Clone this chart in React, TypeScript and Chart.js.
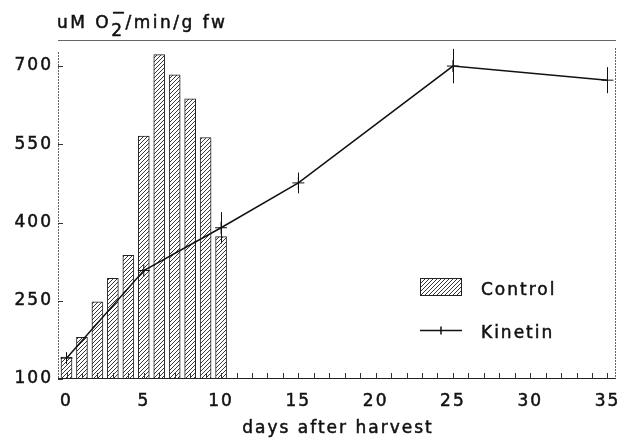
import React, { useEffect, useRef } from "react";
import { Chart, registerables } from "chart.js";
Chart.register(...registerables);

const controlDays = [0, 1, 2, 3, 4, 5, 6, 7, 8, 9, 10];
const controlValues = [142, 180, 248, 293, 337, 566, 722, 683, 637, 563, 373];
const kinetinDays = [0, 5, 10, 15, 25, 35];
const kinetinValues = [140, 308, 390, 476, 700, 673];
const kinetinErrors = [0, 0, 30, 20, 33, 25];
const xTicks = [0, 5, 10, 15, 20, 25, 30, 35];
const yTicks = [100, 250, 400, 550, 700];
const minorXTicks = Array.from({ length: 36 }, (_, i) => i);

const FONT = "'DejaVu Sans', sans-serif";
const SPACING = "2px";
const TEXT_STROKE = 0.5;

function makeHatch(): CanvasPattern | string {
  const c = document.createElement("canvas");
  c.width = 4;
  c.height = 4;
  const g = c.getContext("2d");
  if (!g) return "#fff";
  g.fillStyle = "#fff";
  g.fillRect(0, 0, 4, 4);
  g.strokeStyle = "#222";
  g.lineWidth = 0.9;
  g.beginPath();
  g.moveTo(0, 4);
  g.lineTo(4, 0);
  g.moveTo(-1, 1);
  g.lineTo(1, -1);
  g.moveTo(3, 5);
  g.lineTo(5, 3);
  g.stroke();
  const p = g.createPattern(c, "repeat");
  return p || "#fff";
}

function drawText(ctx: any, s: string, x: number, y: number) {
  ctx.fillText(s, x, y);
  ctx.lineWidth = TEXT_STROKE;
  ctx.strokeStyle = "#111";
  ctx.strokeText(s, x, y);
}

export default function App() {
  const ref = useRef<HTMLCanvasElement | null>(null);
  useEffect(() => {
    if (!ref.current) return;
    const hatch = makeHatch();

    const spacingPlugin = {
      id: "spacing",
      beforeLayout(chart: any) {
        try {
          chart.ctx.letterSpacing = SPACING;
        } catch (e) {}
      },
      beforeDraw(chart: any) {
        try {
          chart.ctx.letterSpacing = SPACING;
        } catch (e) {}
      },
    };

    const decorPlugin = {
      id: "decor",
      afterDatasetsDraw(chart: any) {
        const { ctx, chartArea, scales } = chart;
        const xs = scales.x;
        const ys = scales.y;
        ctx.save();
        // error bars
        ctx.strokeStyle = "#111";
        ctx.lineWidth = 1;
        kinetinDays.forEach((d, i) => {
          const e = kinetinErrors[i];
          if (!e) return;
          const px = Math.round(xs.getPixelForValue(d)) + 0.5;
          ctx.beginPath();
          ctx.moveTo(px, ys.getPixelForValue(kinetinValues[i] - e));
          ctx.lineTo(px, ys.getPixelForValue(kinetinValues[i] + e));
          ctx.stroke();
        });
        // borders
        ctx.strokeStyle = "#666";
        ctx.lineWidth = 1;
        ctx.beginPath();
        ctx.moveTo(chartArea.left, chartArea.top + 0.5);
        ctx.lineTo(chartArea.right, chartArea.top + 0.5);
        ctx.stroke();
        ctx.setLineDash([2, 1]);
        ctx.beginPath();
        ctx.moveTo(chartArea.right - 0.5, chartArea.top + 8);
        ctx.lineTo(chartArea.right - 0.5, chartArea.bottom);
        ctx.moveTo(chartArea.left + 0.5, chartArea.top + 12);
        ctx.lineTo(chartArea.left + 0.5, chartArea.bottom);
        ctx.stroke();
        ctx.setLineDash([]);
        ctx.strokeStyle = "#222";
        ctx.beginPath();
        ctx.moveTo(chartArea.left, chartArea.bottom - 0.5);
        ctx.lineTo(chartArea.right, chartArea.bottom - 0.5);
        ctx.stroke();
        // minor x ticks (inside)
        ctx.strokeStyle = "#333";
        ctx.beginPath();
        minorXTicks.forEach((d) => {
          const px = Math.round(xs.getPixelForValue(d)) + 0.5;
          ctx.moveTo(px, chartArea.bottom);
          ctx.lineTo(px, chartArea.bottom - 6);
        });
        // y ticks inside
        yTicks.forEach((v) => {
          const py = Math.round(ys.getPixelForValue(v)) + 0.5;
          ctx.moveTo(chartArea.left, py);
          ctx.lineTo(chartArea.left + 5, py);
        });
        ctx.stroke();

        // title
        ctx.fillStyle = "#111";
        ctx.textBaseline = "alphabetic";
        ctx.textAlign = "left";
        try {
          ctx.letterSpacing = "2.5px";
        } catch (e) {}
        ctx.font = `17px ${FONT}`;
        let tx = 57;
        const ty = 28;
        const t1 = "uM O";
        drawText(ctx, t1, tx, ty);
        tx += ctx.measureText(t1).width;
        drawText(ctx, "2", tx, ty + 8);
        drawText(ctx, "\u2212", tx, ty - 10);
        tx += ctx.measureText("2").width + 1;
        drawText(ctx, "/min/g fw", tx, ty);
        try {
          ctx.letterSpacing = SPACING;
        } catch (e) {}

        // x-axis title
        ctx.textAlign = "center";
        drawText(ctx, "days after harvest", (chartArea.left + chartArea.right) / 2 + 1, 433);
        ctx.textAlign = "left";

        // legend
        const lx = 420;
        const ly = 278;
        ctx.fillStyle = hatch as any;
        ctx.fillRect(lx, ly, 42, 18);
        ctx.strokeStyle = "#222";
        ctx.lineWidth = 1;
        ctx.strokeRect(lx + 0.5, ly + 0.5, 41, 17);
        ctx.fillStyle = "#111";
        ctx.font = `17px ${FONT}`;
        ctx.textBaseline = "middle";
        drawText(ctx, "Control", lx + 61, ly + 13);
        const ky = 330.5;
        ctx.lineWidth = 1.5;
        ctx.strokeStyle = "#111";
        ctx.beginPath();
        ctx.moveTo(lx, ky);
        ctx.lineTo(lx + 42, ky);
        ctx.moveTo(lx + 21, ky - 4);
        ctx.lineTo(lx + 21, ky + 4);
        ctx.stroke();
        drawText(ctx, "Kinetin", lx + 61, ky + 3);
        ctx.restore();
      },
    };

    const chart = new Chart(ref.current, {
      type: "bar",
      data: {
        datasets: [
          {
            type: "line",
            label: "Kinetin",
            data: kinetinDays.map((d, i) => ({ x: d, y: kinetinValues[i] })),
            borderColor: "#111",
            borderWidth: 1.5,
            pointStyle: "cross",
            pointRadius: 6,
            pointBorderColor: "#111",
            pointBorderWidth: 1,
            tension: 0,
            fill: false,
            order: 0,
          } as any,
          {
            type: "bar",
            label: "Control",
            data: controlDays.map((d, i) => ({ x: d, y: controlValues[i] })),
            backgroundColor: hatch as any,
            borderColor: "#222",
            borderWidth: 1,
            barThickness: 11,
            base: 100,
            order: 1,
          } as any,
        ],
      },
      options: {
        responsive: false,
        animation: false,
        layout: { padding: { top: 40, right: 6, left: 0, bottom: 0 } },
        plugins: {
          legend: { display: false },
          tooltip: { enabled: false },
          title: { display: false },
        },
        scales: {
          x: {
            type: "linear",
            offset: false,
            min: -0.55,
            max: 35.55,
            grid: { display: false, drawTicks: false, offset: false },
            border: { display: false },
            afterBuildTicks: (s: any) => {
              s.ticks = xTicks.map((v) => ({ value: v }));
            },
            afterFit: (s: any) => {
              s.height = 59;
              s.paddingLeft = 0;
              s.paddingRight = 0;
            },
            ticks: {
              color: "#111",
              font: { family: FONT, size: 17 },
              padding: 12,
              maxRotation: 0,
              autoSkip: false,
              textStrokeColor: "#111",
              textStrokeWidth: TEXT_STROKE,
            },
          },
          y: {
            type: "linear",
            min: 100,
            max: 750,
            grid: { display: false, drawTicks: false },
            border: { display: false },
            afterBuildTicks: (s: any) => {
              s.ticks = yTicks.map((v) => ({ value: v }));
            },
            afterFit: (s: any) => {
              s.width = 58;
              s.paddingTop = 0;
              s.paddingBottom = 0;
            },
            ticks: {
              color: "#111",
              font: { family: FONT, size: 17 },
              padding: 5,
              textStrokeColor: "#111",
              textStrokeWidth: TEXT_STROKE,
            },
          },
        },
      },
      plugins: [spacingPlugin, decorPlugin],
    });
    return () => chart.destroy();
  }, []);

  return (
    <div style={{ position: "absolute", left: 0, top: 0, width: 623, height: 438, background: "#fff" }}>
      <canvas ref={ref} width={623} height={438} style={{ display: "block" }} />
    </div>
  );
}
